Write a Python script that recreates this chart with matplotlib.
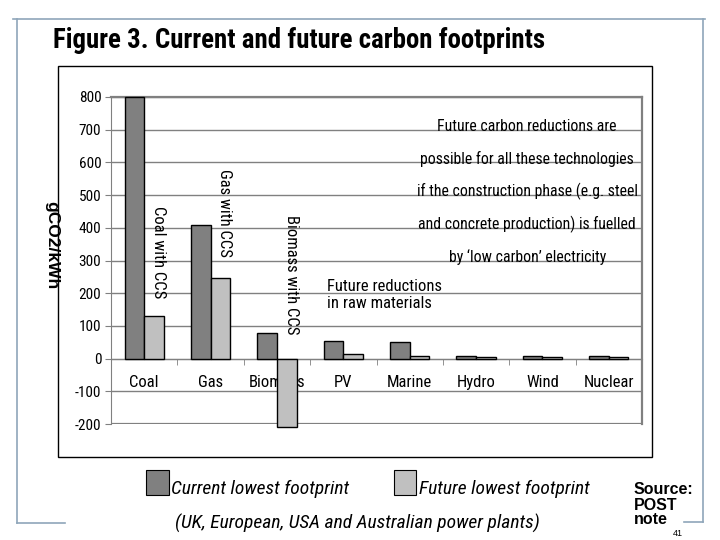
import matplotlib
matplotlib.use("Agg")
import matplotlib.pyplot as plt
import numpy as np
from matplotlib import font_manager
from matplotlib.font_manager import FontProperties
from matplotlib.patches import Rectangle
from matplotlib.lines import Line2D

categories = ["Coal", "Gas", "Biomass", "PV", "Marine", "Hydro", "Wind", "Nuclear"]
current = [800, 410, 79, 55, 52, 9, 9, 9]
future = [131, 246, -210, 14, 9, 5, 4, 4]
yticks = [-200, -100, 0, 100, 200, 300, 400, 500, 600, 700, 800]
legend_labels = ["Current lowest footprint", "Future lowest footprint"]
vertical_notes = [("Coal with CCS", 0.22, 326), ("Gas with CCS", 1.21, 444), ("Biomass with CCS", 2.22, 256)]
box_lines = ["Future carbon reductions are",
             "possible for all these technologies",
             "if the construction phase (e.g. steel",
             "and concrete production) is fuelled",
             "by \u2018low carbon\u2019 electricity"]
box_y = [711, 611, 511, 411, 311]


def pick(weight="normal", style="normal"):
    cands = []
    for f in font_manager.fontManager.ttflist:
        nm = f.name.lower()
        st = str(f.stretch).lower()
        cond = ("condensed" in st or "narrow" in nm or "condensed" in nm
                or st in ("semi-condensed", "condensed", "extra-condensed"))
        if isinstance(f.stretch, (int, float)):
            cond = cond or f.stretch < 500
        if not cond:
            continue
        w = f.weight if isinstance(f.weight, int) else (700 if "bold" in str(f.weight) else 400)
        wantw = 700 if weight == "bold" else 400
        if abs(w - wantw) > 150:
            continue
        if (f.style != "normal") != (style != "normal"):
            continue
        pref = 10
        for i, key in enumerate(["liberation sans narrow", "roboto condensed", "open sans",
                                 "dejavu sans", "noto sans"]):
            if key in nm:
                pref = i
                break
        cands.append((pref, f.fname))
    cands.sort()
    if cands:
        return FontProperties(fname=cands[0][1])
    return FontProperties(family="Liberation Sans", weight=weight, style=style)


def fp(size, weight="normal", style="normal"):
    p = pick(weight, style).copy()
    p.set_size(size)
    return p


W, H = 720, 540
fig = plt.figure(figsize=(7.2, 5.4), dpi=100)
fig.patch.set_facecolor("white")


def fx(px):
    return px / W


def fy(py):
    return 1 - py / H


frame_c = "#8fa6ba"
for xs, ys in [([13, 705], [19, 19]), ([17, 17], [19, 523]), ([17, 65], [523, 523]),
               ([703, 703], [19, 522]), ([684, 703], [522, 522])]:
    fig.add_artist(Line2D([fx(v) for v in xs], [fy(v) for v in ys], color=frame_c, lw=1.2))

fig.add_artist(Rectangle((fx(58), fy(457)), fx(652) - fx(58), fy(66) - fy(457),
                         fill=False, edgecolor="black", lw=1.0))

fig.text(fx(53), fy(40), "Figure 3. Current and future carbon footprints",
         fontproperties=fp(19.4, "bold"), va="center", ha="left")

ax = fig.add_axes([fx(111), fy(424), fx(642) - fx(111), fy(97) - fy(424)])
x = np.arange(len(categories))
bw = 0.295
b1 = ax.bar(x - bw / 2, current, bw, color="#808080", edgecolor="black", lw=1.0, zorder=3)
b2 = ax.bar(x + bw / 2, future, bw, color="#c0c0c0", edgecolor="black", lw=1.0, zorder=3)
for p in list(b1) + list(b2):
    p.set_clip_on(False)
ax.set_xlim(-0.5, len(categories) - 0.5)
ax.set_ylim(-200, 800)
ax.set_yticks(yticks)
ax.set_yticklabels([str(v) for v in yticks], fontproperties=fp(11))
ax.yaxis.grid(True, color="#808080", lw=1.0, zorder=0)
ax.set_axisbelow(True)

for s in ["top", "right"]:
    ax.spines[s].set_color("#808080")
    ax.spines[s].set_linewidth(1.6)
ax.spines["left"].set_color("#808080")
ax.spines["bottom"].set_position(("data", 0))
ax.spines["bottom"].set_color("#808080")
ax.axhline(-200, color="#808080", lw=1.6, zorder=1)
ax.tick_params(axis="y", length=4, color="#808080", pad=3)
ax.set_xticks(np.arange(len(categories) + 1) - 0.5, minor=True)
ax.set_xticks(x)
ax.set_xticklabels([])
ax.tick_params(axis="x", which="major", length=0)
ax.tick_params(axis="x", which="minor", length=4, color="#808080", direction="out")
for xi, c in zip(x, categories):
    ax.text(xi, -72, c, ha="center", va="center", fontproperties=fp(12), zorder=2)

for txt, xp, yp in vertical_notes:
    ax.text(xp, yp, txt, rotation=270, ha="center", va="center", fontproperties=fp(12), zorder=4)

for txt, yp in zip(box_lines, box_y):
    ax.text(5.77, yp, txt, ha="center", va="center", fontproperties=fp(11.3))

ax.text(2.76, 195, "Future reductions\nin raw materials", ha="left", va="center",
        fontproperties=fp(12), linespacing=1.15)

fig.text(fx(52), fy(245), "gCO2/kWh", rotation=270, ha="center", va="center",
         fontsize=12.5, fontweight="bold", family="Liberation Sans")

fig.add_artist(Rectangle((fx(146), fy(495)), fx(23), fy(470) - fy(495),
                         facecolor="#808080", edgecolor="black", lw=0.8))
fig.text(fx(171), fy(489), legend_labels[0], fontproperties=fp(14, style="italic"),
         ha="left", va="center")
fig.add_artist(Rectangle((fx(394), fy(495)), fx(22), fy(470) - fy(495),
                         facecolor="#c0c0c0", edgecolor="black", lw=0.8))
fig.text(fx(419), fy(489), legend_labels[1], fontproperties=fp(14, style="italic"),
         ha="left", va="center")
fig.text(fx(357), fy(523), "(UK, European, USA and Australian power plants)",
         fontproperties=fp(14, style="italic"), ha="center", va="center")

fig.text(fx(634), fy(505), "Source:\nPOST\nnote", fontweight="bold", fontsize=11.5,
         family="Liberation Sans", ha="left", va="center", linespacing=1.0)
fig.text(fx(673), fy(534), "41", fontsize=6.5, family="Liberation Sans", ha="left", va="center")

fig.savefig("out.png", dpi=100)
